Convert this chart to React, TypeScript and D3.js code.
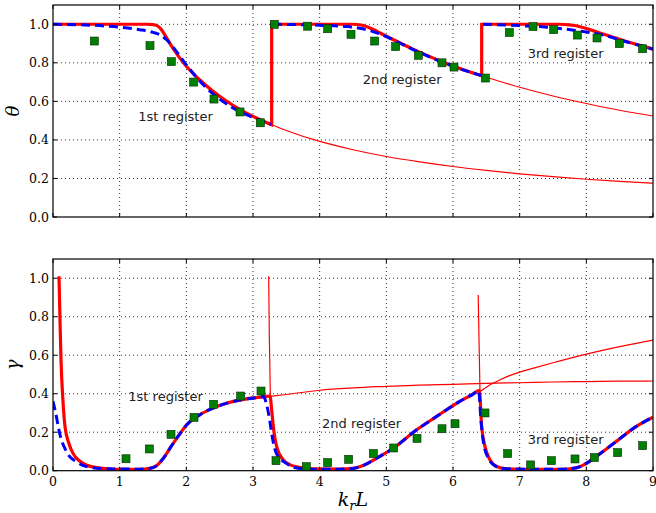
import React from "react";
import * as d3 from "d3";

type Pt = [number, number];

// ---- theta (top panel) ----
const thetaMarkerX = [0.62, 1.455, 1.775, 2.11, 2.415, 2.805, 3.11, 3.32, 3.82, 4.12, 4.47, 4.825, 5.14, 5.48, 5.835, 6.015, 6.485, 6.845, 7.2, 7.51, 7.865, 8.16, 8.495, 8.845];
const thetaMarkerY = [0.913, 0.889, 0.806, 0.7, 0.612, 0.545, 0.489, 1.0, 0.99, 0.977, 0.948, 0.913, 0.884, 0.839, 0.8, 0.778, 0.721, 0.957, 0.988, 0.972, 0.944, 0.929, 0.9, 0.873];

const thetaRedSeg1: Pt[] = [[0, 1.0], [1.4, 1.0], [1.5, 0.998], [1.56, 0.993], [1.62, 0.975], [1.7, 0.932], [1.8, 0.875], [2.0, 0.782], [2.2, 0.712], [2.4, 0.652], [2.6, 0.602], [2.8, 0.559], [3.0, 0.522], [3.2, 0.49], [3.28, 0.479]];
const thetaRedSeg2: Pt[] = [[3.28, 1.0], [4.5, 1.0], [4.62, 0.996], [4.72, 0.986], [4.82, 0.97], [4.92, 0.952], [5.0, 0.938], [5.2, 0.904], [5.4, 0.871], [5.6, 0.84], [5.8, 0.811], [6.0, 0.784], [6.2, 0.759], [6.43, 0.733]];
const thetaRedSeg3: Pt[] = [[6.43, 1.0], [7.6, 1.0], [7.75, 0.997], [7.88, 0.99], [8.0, 0.978], [8.2, 0.955], [8.4, 0.933], [8.6, 0.911], [8.8, 0.891], [9.0, 0.871]];

const thetaThinA: Pt[] = [[3.28, 0.479], [3.5, 0.449], [4.0, 0.392], [4.5, 0.349], [5.0, 0.314], [5.5, 0.286], [6.0, 0.262], [6.5, 0.242], [7.0, 0.224], [7.5, 0.209], [8.0, 0.196], [8.5, 0.185], [9.0, 0.175]];
const thetaThinB: Pt[] = [[6.43, 0.733], [7.0, 0.673], [7.5, 0.628], [8.0, 0.589], [8.5, 0.554], [9.0, 0.524]];

const thetaBlueSeg1: Pt[] = [[0, 1.0], [0.7, 0.993], [1.0, 0.985], [1.3, 0.972], [1.5, 0.958], [1.6, 0.946], [1.7, 0.921], [1.8, 0.882], [2.0, 0.789], [2.3, 0.67], [2.7, 0.566], [3.1, 0.503], [3.27, 0.481]];
const thetaBlueSeg2: Pt[] = [[3.3, 1.0], [4.0, 0.995], [4.4, 0.988], [4.6, 0.979], [4.8, 0.962], [5.0, 0.936], [5.4, 0.869], [5.8, 0.809], [6.2, 0.758], [6.42, 0.735]];
const thetaBlueSeg3: Pt[] = [[6.45, 1.0], [7.0, 0.993], [7.4, 0.985], [7.7, 0.974], [8.0, 0.96], [8.2, 0.948], [8.6, 0.909], [9.0, 0.872]];

// ---- gamma (bottom panel) ----
const gammaMarkerX = [1.095, 1.445, 1.77, 2.115, 2.41, 2.815, 3.12, 3.345, 3.8, 4.12, 4.435, 4.805, 5.11, 5.46, 5.835, 6.03, 6.48, 6.82, 7.165, 7.475, 7.83, 8.12, 8.47, 8.845];
const gammaMarkerY = [0.062, 0.113, 0.189, 0.277, 0.345, 0.388, 0.414, 0.052, 0.021, 0.042, 0.059, 0.089, 0.118, 0.168, 0.218, 0.244, 0.3, 0.089, 0.03, 0.052, 0.061, 0.068, 0.094, 0.13];

const gammaRed: Pt[] = [
  [0.09, 1.01], [0.105, 0.78], [0.12, 0.575], [0.15, 0.36], [0.18, 0.229], [0.24, 0.14], [0.3, 0.09], [0.4, 0.05], [0.5, 0.03], [0.65, 0.016], [0.8, 0.01], [1.0, 0.007], [1.3, 0.007], [1.45, 0.012], [1.55, 0.025], [1.65, 0.062], [1.77, 0.125], [1.9, 0.19], [2.0, 0.236], [2.2, 0.29], [2.4, 0.325], [2.6, 0.35], [2.8, 0.367], [3.0, 0.378], [3.2, 0.386], [3.255, 0.388],
  [3.28, 0.316], [3.305, 0.229], [3.355, 0.125], [3.455, 0.056], [3.55, 0.032], [3.655, 0.02], [3.9, 0.009], [4.3, 0.008], [4.5, 0.012], [4.6, 0.02], [4.72, 0.038], [4.85, 0.064], [5.11, 0.118], [5.445, 0.21], [5.745, 0.28], [6.095, 0.359], [6.3, 0.398], [6.395, 0.418],
  [6.43, 0.229], [6.48, 0.125], [6.555, 0.056], [6.655, 0.022], [6.8, 0.01], [7.2, 0.007], [7.6, 0.007], [7.85, 0.015], [8.0, 0.038], [8.145, 0.073], [8.445, 0.151], [8.745, 0.229], [9.0, 0.278],
];

const gammaBlue: Pt[] = [
  [0.0, 0.36], [0.04, 0.3], [0.1, 0.194], [0.2, 0.1], [0.35, 0.047], [0.55, 0.018], [0.8, 0.01], [1.3, 0.008], [1.45, 0.012], [1.55, 0.025], [1.65, 0.062], [1.77, 0.125], [1.9, 0.19], [2.0, 0.236], [2.2, 0.29], [2.4, 0.325], [2.6, 0.35], [2.8, 0.367], [3.0, 0.377], [3.155, 0.385],
  [3.2, 0.35], [3.25, 0.264], [3.28, 0.194], [3.35, 0.09], [3.5, 0.038], [3.7, 0.012], [4.0, 0.008], [4.3, 0.008], [4.5, 0.012], [4.6, 0.02], [4.72, 0.038], [4.85, 0.064], [5.11, 0.118], [5.445, 0.21], [5.745, 0.28], [6.095, 0.359], [6.3, 0.398], [6.385, 0.415],
  [6.42, 0.26], [6.46, 0.14], [6.53, 0.065], [6.64, 0.024], [6.8, 0.01], [7.2, 0.007], [7.6, 0.007], [7.85, 0.015], [8.0, 0.038], [8.145, 0.073], [8.445, 0.151], [8.745, 0.229], [9.0, 0.278],
];

const gammaSpike2: Pt[] = [[3.235, 1.01], [3.245, 0.7], [3.26, 0.385]];
const gammaSpike3: Pt[] = [[6.378, 0.913], [6.392, 0.65], [6.405, 0.41]];
const gammaThinA: Pt[] = [[3.255, 0.386], [3.5, 0.396], [4.0, 0.418], [4.5, 0.43], [5.0, 0.438], [5.5, 0.445], [6.0, 0.449], [6.5, 0.454], [7.0, 0.457], [7.5, 0.461], [8.0, 0.463], [8.5, 0.465], [9.0, 0.466]];
const gammaThinB: Pt[] = [[6.405, 0.41], [6.55, 0.445], [6.7, 0.471], [6.85, 0.494], [7.0, 0.512], [7.25, 0.537], [7.5, 0.561], [8.0, 0.606], [8.5, 0.645], [9.0, 0.679]];

const xTicks = [0, 1, 2, 3, 4, 5, 6, 7, 8, 9];
const yTicks = [0, 0.2, 0.4, 0.6, 0.8, 1.0];

const topNotes = [
  { text: "1st register", x: 1.28, y: 0.497 },
  { text: "2nd register", x: 4.645, y: 0.688 },
  { text: "3rd register", x: 7.12, y: 0.825 },
];
const bottomNotes = [
  { text: "1st register", x: 1.13, y: 0.362 },
  { text: "2nd register", x: 4.035, y: 0.224 },
  { text: "3rd register", x: 7.12, y: 0.138 },
];

const W = 656;
const H = 513;
const LEFT = 53;
const RIGHT = 653;

const x = d3.scaleLinear().domain([0, 9]).range([LEFT, RIGHT]);

const serif = "'DejaVu Serif', 'Liberation Serif', serif";
const sans = "'DejaVu Sans', sans-serif";

function joinSegments(line: d3.Line<Pt>, segs: Pt[][]): string {
  return segs
    .map((s, i) => {
      const p = line(s) || "";
      return i === 0 ? p : "L" + p.slice(1);
    })
    .join("");
}

type PanelProps = {
  id: string;
  top: number;
  bottom: number;
  showXLabels: boolean;
  children: (y: d3.ScaleLinear<number, number>, line: d3.Line<Pt>) => React.ReactNode;
  ylabel: string;
  notes: { text: string; x: number; y: number }[];
  mx: number[];
  my: number[];
};

function Panel({ id, top, bottom, showXLabels, children, ylabel, notes, mx, my }: PanelProps) {
  const y = d3.scaleLinear().domain([0, 1.1]).range([bottom, top]);
  const line = d3
    .line<Pt>()
    .x((d) => x(d[0]))
    .y((d) => y(d[1]))
    .curve(d3.curveMonotoneX);
  const tl = 4;
  const ms = 8;
  return (
    <g>
      <defs>
        <clipPath id={id}>
          <rect x={LEFT} y={top} width={RIGHT - LEFT} height={bottom - top} />
        </clipPath>
      </defs>
      {/* grid */}
      <g stroke="#000" strokeWidth={0.8} strokeDasharray="1,3">
        {xTicks.slice(1, -1).map((t) => (
          <line key={"gx" + t} x1={x(t)} x2={x(t)} y1={top} y2={bottom} />
        ))}
        {yTicks.slice(1).map((t) => (
          <line key={"gy" + t} x1={LEFT} x2={RIGHT} y1={y(t)} y2={y(t)} />
        ))}
      </g>
      <g clipPath={`url(#${id})`} fill="none">
        {children(y, line)}
        {mx.map((v, i) => (
          <rect
            key={"m" + i}
            x={x(v) - ms / 2}
            y={y(my[i]) - ms / 2}
            width={ms}
            height={ms}
            fill="#008000"
            stroke="#0b2a0b"
            strokeWidth={0.6}
          />
        ))}
      </g>
      {/* annotations */}
      {notes.map((n) => (
        <text key={n.text} x={x(n.x)} y={y(n.y)} fontFamily={sans} fontSize={13} fill="#222">
          {n.text}
        </text>
      ))}
      {/* frame and ticks */}
      <rect x={LEFT} y={top} width={RIGHT - LEFT} height={bottom - top} fill="none" stroke="#000" strokeWidth={1.2} />
      <g stroke="#000" strokeWidth={1}>
        {xTicks.map((t) => (
          <g key={"tx" + t}>
            <line x1={x(t)} x2={x(t)} y1={bottom} y2={bottom - tl} />
            <line x1={x(t)} x2={x(t)} y1={top} y2={top + tl} />
          </g>
        ))}
        {yTicks.map((t) => (
          <g key={"ty" + t}>
            <line x1={LEFT} x2={LEFT + tl} y1={y(t)} y2={y(t)} />
            <line x1={RIGHT} x2={RIGHT - tl} y1={y(t)} y2={y(t)} />
          </g>
        ))}
      </g>
      <g fontFamily={serif} fontSize={12.5} fill="#000">
        {yTicks.map((t) => (
          <text key={"ly" + t} x={LEFT - 4} y={y(t)} dy="0.36em" textAnchor="end">
            {t.toFixed(1)}
          </text>
        ))}
        {showXLabels &&
          xTicks.map((t) => (
            <text key={"lx" + t} x={x(t)} y={bottom + 15} textAnchor="middle">
              {t}
            </text>
          ))}
      </g>
      <text
        transform={`translate(19, ${(top + bottom) / 2}) rotate(-90)`}
        textAnchor="middle"
        fontFamily={serif}
        fontStyle="italic"
        fontSize={18}
      >
        {ylabel}
      </text>
    </g>
  );
}

export default function App() {
  return (
    <svg
      width={W}
      height={H}
      viewBox={`0 0 ${W} ${H}`}
      style={{ position: "absolute", left: 0, top: 0, background: "#fff" }}
    >
      <rect width={W} height={H} fill="#fff" />
      <Panel
        id="clip-theta"
        top={5}
        bottom={217}
        showXLabels={false}
        ylabel="θ"
        notes={topNotes}
        mx={thetaMarkerX}
        my={thetaMarkerY}
      >
        {(y, line) => (
          <>
            <path d={joinSegments(line, [thetaRedSeg1, thetaRedSeg2, thetaRedSeg3])} stroke="#ff0000" strokeWidth={3.2} />
            <path d={line(thetaThinA) || ""} stroke="#ff0000" strokeWidth={1.2} />
            <path d={line(thetaThinB) || ""} stroke="#ff0000" strokeWidth={1.2} />
            {[thetaBlueSeg1, thetaBlueSeg2, thetaBlueSeg3].map((s, i) => (
              <path key={i} d={line(s) || ""} stroke="#0000ff" strokeWidth={3} strokeDasharray="9,5" />
            ))}
          </>
        )}
      </Panel>
      <Panel
        id="clip-gamma"
        top={259}
        bottom={470.7}
        showXLabels={true}
        ylabel="γ"
        notes={bottomNotes}
        mx={gammaMarkerX}
        my={gammaMarkerY}
      >
        {(y, line) => (
          <>
            <path d={line(gammaRed) || ""} stroke="#ff0000" strokeWidth={3.2} />
            <path d={line(gammaBlue) || ""} stroke="#0000ff" strokeWidth={3} strokeDasharray="9,5" />
            <path d={line(gammaSpike2) || ""} stroke="#ff0000" strokeWidth={1.2} />
            <path d={line(gammaSpike3) || ""} stroke="#ff0000" strokeWidth={1.2} />
            <path d={line(gammaThinA) || ""} stroke="#ff0000" strokeWidth={1.2} />
            <path d={line(gammaThinB) || ""} stroke="#ff0000" strokeWidth={1.2} />
          </>
        )}
      </Panel>
      <text x={x(4.5)} y={506} textAnchor="middle" fontFamily={serif} fontStyle="italic" fontSize={19}>
        k
        <tspan fontSize={13} dy={4}>
          r
        </tspan>
        <tspan dy={-4}>L</tspan>
      </text>
    </svg>
  );
}
